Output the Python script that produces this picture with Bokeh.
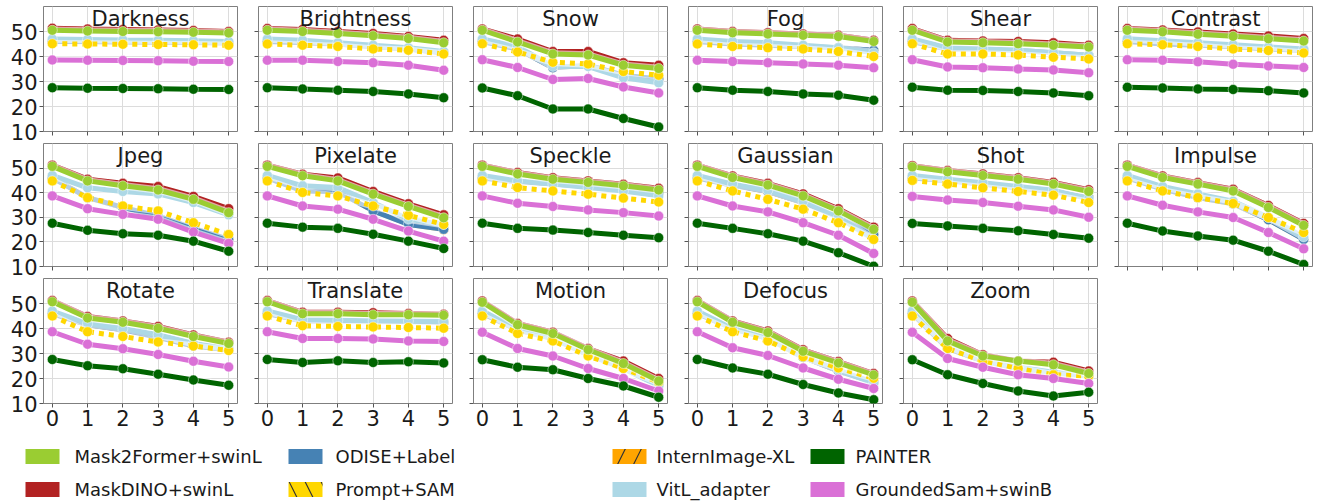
from bokeh.plotting import figure
from bokeh.layouts import column, row
from bokeh.models import Label, FixedTicker, Range1d
from bokeh.embed import file_html
from bokeh.resources import INLINE
from bokeh.core.properties import value

corruptions = ["Darkness", "Brightness", "Snow", "Fog", "Shear", "Contrast",
               "Jpeg", "Pixelate", "Speckle", "Gaussian", "Shot", "Impulse",
               "Rotate", "Translate", "Motion", "Defocus", "Zoom"]
severity = [0, 1, 2, 3, 4, 5]
y_ticks = [10, 20, 30, 40, 50]

mask2former = [
    [50.5, 50.2, 50.0, 49.9, 49.7, 49.4],
    [50.5, 50.0, 49.2, 48.3, 47.2, 45.5],
    [50.5, 45.8, 41.0, 40.6, 36.5, 35.2],
    [50.5, 49.5, 49.0, 48.5, 48.0, 46.0],
    [50.5, 45.8, 45.5, 45.1, 44.5, 43.8],
    [50.5, 49.9, 48.9, 48.1, 47.1, 46.2],
    [50.7, 44.8, 42.8, 41.1, 37.3, 31.9],
    [50.7, 46.9, 44.8, 39.4, 34.4, 29.8],
    [50.7, 47.6, 45.5, 44.2, 42.8, 41.1],
    [50.7, 46.2, 43.1, 38.7, 32.6, 25.1],
    [50.5, 48.5, 47.0, 45.5, 43.5, 40.5],
    [50.7, 46.2, 43.5, 40.7, 34.0, 26.7],
    [50.7, 44.2, 42.5, 40.1, 36.8, 34.0],
    [50.7, 45.9, 45.9, 45.5, 45.5, 45.3],
    [50.5, 41.5, 38.0, 31.5, 26.0, 19.0],
    [50.7, 42.5, 38.4, 30.9, 26.2, 21.4],
    [50.5, 35.0, 29.0, 27.0, 25.5, 22.0],
]
maskdino = [
    [51.3, 51.0, 50.8, 50.6, 50.4, 50.0],
    [51.2, 50.8, 50.0, 49.2, 48.0, 46.5],
    [51.0, 47.0, 42.0, 42.0, 37.5, 36.5],
    [51.0, 50.0, 49.5, 49.0, 48.5, 46.5],
    [51.2, 46.5, 46.2, 46.0, 45.5, 44.5],
    [51.2, 50.6, 49.8, 49.0, 48.2, 47.2],
    [51.2, 45.5, 43.8, 42.5, 38.5, 33.5],
    [51.2, 47.5, 46.0, 40.5, 35.5, 31.0],
    [51.2, 48.2, 46.1, 44.8, 43.4, 41.8],
    [51.2, 46.8, 43.8, 39.5, 33.5, 26.0],
    [51.0, 49.0, 47.6, 46.1, 44.2, 41.2],
    [51.2, 46.8, 44.1, 41.4, 34.8, 27.5],
    [51.2, 44.8, 43.0, 40.8, 37.4, 34.5],
    [51.2, 46.5, 46.5, 46.3, 46.0, 45.7],
    [51.0, 42.0, 38.5, 32.0, 27.0, 20.0],
    [51.2, 43.0, 39.0, 31.5, 26.8, 22.0],
    [51.0, 36.0, 29.5, 27.0, 26.5, 23.0],
]
odise = [
    [46.0, 46.0, 45.8, 45.8, 45.6, 45.5],
    [46.0, 45.6, 45.0, 44.0, 43.0, 41.5],
    [46.0, 43.0, 35.5, 36.5, 32.5, 31.0],
    [46.0, 45.0, 44.5, 44.0, 43.5, 42.5],
    [46.0, 43.0, 43.0, 42.5, 41.5, 40.5],
    [46.0, 45.0, 44.5, 44.0, 43.0, 42.5],
    [46.0, 38.0, 34.0, 30.5, 25.5, 21.0],
    [46.0, 40.7, 40.5, 32.6, 27.1, 25.1],
    [46.0, 44.5, 43.5, 42.5, 41.5, 40.0],
    [46.0, 43.0, 40.5, 36.0, 30.0, 23.0],
    [46.0, 45.0, 43.5, 42.0, 40.5, 38.0],
    [46.0, 41.5, 38.0, 35.5, 29.0, 21.0],
    [46.0, 41.5, 39.5, 36.5, 33.0, 31.5],
    [46.0, 43.0, 43.0, 43.0, 42.8, 42.5],
    [46.0, 39.5, 36.0, 29.5, 24.0, 17.5],
    [46.0, 40.0, 36.0, 28.5, 23.0, 18.5],
    [46.0, 32.0, 27.0, 24.0, 22.0, 21.0],
]
prompt_sam = [
    [45.1, 45.0, 44.9, 44.8, 44.7, 44.5],
    [45.0, 44.5, 44.0, 43.0, 42.5, 41.0],
    [45.1, 41.8, 37.7, 37.0, 34.0, 32.5],
    [45.0, 44.0, 43.5, 43.0, 42.0, 40.0],
    [45.1, 41.0, 41.0, 40.6, 39.7, 39.0],
    [45.1, 44.7, 44.0, 43.0, 42.4, 41.4],
    [44.8, 38.0, 34.6, 32.6, 27.8, 23.0],
    [44.8, 40.1, 38.7, 34.6, 30.8, 27.1],
    [44.8, 42.1, 40.7, 39.4, 37.8, 36.2],
    [44.8, 40.7, 37.3, 33.3, 27.8, 21.0],
    [45.0, 43.5, 42.0, 40.5, 39.0, 36.0],
    [44.8, 40.7, 38.0, 35.6, 29.9, 23.8],
    [45.0, 38.7, 36.8, 34.6, 33.0, 31.2],
    [45.0, 41.1, 40.8, 40.6, 40.4, 40.1],
    [45.0, 38.0, 35.0, 29.0, 24.0, 18.5],
    [45.0, 38.7, 35.0, 28.7, 24.2, 20.1],
    [45.0, 32.0, 27.0, 24.0, 21.5, 21.0],
]
internimage = [
    [46.0, 45.9, 45.8, 45.7, 45.6, 45.4],
    [46.0, 45.5, 44.9, 44.0, 43.0, 41.5],
    [46.0, 43.0, 35.6, 36.4, 32.4, 31.0],
    [46.0, 45.0, 44.4, 44.0, 43.4, 42.4],
    [46.0, 43.0, 42.9, 42.5, 41.5, 40.4],
    [46.0, 45.0, 44.5, 43.9, 43.0, 42.4],
    [46.0, 38.0, 34.1, 30.6, 25.5, 21.0],
    [46.0, 40.7, 40.4, 32.7, 27.2, 25.0],
    [46.0, 44.4, 43.5, 42.4, 41.5, 40.0],
    [46.0, 43.0, 40.4, 36.0, 30.0, 23.0],
    [46.0, 44.9, 43.5, 42.0, 40.4, 38.0],
    [46.0, 41.5, 38.0, 35.4, 29.0, 21.1],
    [46.0, 41.4, 39.5, 36.5, 33.0, 31.4],
    [46.0, 43.0, 43.0, 42.9, 42.8, 42.5],
    [46.0, 39.5, 35.9, 29.5, 24.0, 17.5],
    [46.0, 40.0, 36.0, 28.5, 23.1, 18.5],
    [46.0, 32.0, 27.0, 24.0, 22.0, 21.0],
]
vitl_adapter = [
    [47.0, 46.8, 46.6, 46.5, 46.3, 46.0],
    [47.0, 46.5, 45.5, 44.5, 43.5, 42.0],
    [47.0, 44.0, 36.0, 36.0, 31.5, 29.5],
    [47.0, 46.0, 45.5, 44.5, 43.5, 41.5],
    [47.0, 43.5, 43.0, 42.5, 41.5, 40.5],
    [47.1, 46.3, 45.5, 44.7, 43.8, 43.0],
    [47.0, 42.0, 40.5, 39.5, 36.0, 31.0],
    [47.0, 42.8, 42.1, 36.0, 29.2, 27.1],
    [47.0, 44.8, 43.5, 42.1, 40.7, 38.7],
    [47.0, 43.5, 41.0, 36.5, 30.0, 21.0],
    [47.0, 45.5, 44.0, 42.5, 41.0, 37.5],
    [47.0, 42.5, 39.5, 36.5, 30.0, 22.0],
    [47.0, 42.0, 40.0, 37.5, 34.0, 32.0],
    [47.0, 43.5, 43.3, 43.0, 43.0, 42.8],
    [47.0, 40.0, 36.0, 30.0, 24.0, 17.0],
    [47.0, 40.0, 36.0, 29.0, 23.5, 18.0],
    [47.0, 33.0, 27.5, 24.5, 22.5, 21.0],
]
painter = [
    [27.5, 27.3, 27.2, 27.1, 26.9, 26.8],
    [27.5, 27.0, 26.5, 26.0, 25.0, 23.5],
    [27.4, 24.3, 19.0, 19.0, 15.2, 11.8],
    [27.5, 26.5, 26.0, 25.0, 24.5, 22.5],
    [27.7, 26.5, 26.4, 26.0, 25.4, 24.3],
    [27.7, 27.4, 27.0, 26.8, 26.3, 25.4],
    [27.6, 24.7, 23.3, 22.7, 20.3, 16.2],
    [27.6, 26.0, 25.5, 23.1, 20.3, 17.3],
    [27.6, 25.5, 24.8, 23.8, 22.7, 21.7],
    [27.6, 25.5, 23.3, 20.3, 15.6, 10.1],
    [27.5, 26.5, 25.5, 24.5, 23.0, 21.5],
    [27.6, 24.4, 22.4, 20.7, 16.2, 10.8],
    [27.6, 25.1, 23.9, 21.7, 19.4, 17.3],
    [27.6, 26.4, 27.1, 26.4, 26.7, 26.2],
    [27.5, 24.5, 23.5, 20.0, 17.0, 12.5],
    [27.6, 24.2, 21.7, 17.6, 14.2, 11.5],
    [27.5, 21.5, 18.0, 15.0, 13.0, 14.5],
]
groundedsam = [
    [38.6, 38.5, 38.4, 38.3, 38.1, 38.0],
    [38.5, 38.5, 38.0, 37.5, 36.5, 34.5],
    [38.7, 35.6, 30.8, 31.2, 27.8, 25.4],
    [38.5, 38.0, 37.5, 37.0, 36.5, 35.5],
    [38.7, 35.8, 35.5, 35.0, 34.6, 33.5],
    [38.7, 38.5, 37.9, 36.9, 36.2, 35.6],
    [38.7, 33.5, 31.2, 29.2, 24.0, 19.4],
    [38.7, 34.6, 33.3, 29.2, 24.4, 20.3],
    [38.7, 35.7, 34.4, 33.0, 31.9, 30.5],
    [38.7, 34.6, 32.2, 27.8, 22.7, 15.3],
    [38.5, 37.0, 36.0, 34.5, 33.0, 30.0],
    [38.7, 34.9, 32.2, 29.9, 23.8, 17.2],
    [38.7, 33.7, 31.9, 29.6, 26.9, 24.6],
    [38.7, 36.0, 36.0, 35.8, 35.0, 34.8],
    [38.5, 32.0, 29.0, 24.0, 20.0, 15.0],
    [38.7, 32.3, 29.2, 24.2, 19.7, 16.0],
    [38.5, 28.0, 24.5, 21.5, 20.0, 18.0],
]

# legend order (column-major, 2 rows)
legend_names = ["Mask2Former+swinL", "MaskDINO+swinL", "ODISE+Label", "Prompt+SAM",
                "InternImage-XL", "VitL_adapter", "PAINTER", "GroundedSam+swinB"]
legend_colors = ["#9acd32", "#b22222", "#4682b4", "#ffd700",
                 "#ffa500", "#add8e6", "#006400", "#da70d6"]
legend_hatch = [None, None, None, "left_diagonal_line",
                "right_diagonal_line", None, None, None]

# draw order bottom -> top
series = [
    (internimage, "#ffa500", None),
    (odise, "#4682b4", None),
    (vitl_adapter, "#add8e6", None),
    (prompt_sam, "#ffd700", "5 5"),
    (groundedsam, "#da70d6", None),
    (painter, "#006400", None),
    (maskdino, "#b22222", None),
    (mask2former, "#9acd32", None),
]

FONT = "DejaVu Sans"
FW = 194
ROW_FH = [125, 123, 125]
ROW_TOP = [6, 0, 0]
ROW_BOTTOM = [12, 12, 30]


def make_panel(i):
    r, c = divmod(i, 6)
    show_x = r == 2
    show_y = c == 0
    p = figure(frame_width=FW, frame_height=ROW_FH[r],
               x_range=Range1d(-0.25, 5.25), y_range=Range1d(10, 60),
               output_backend="svg", toolbar_location=None,
               min_border_left=43 if c == 0 else 11,
               min_border_right=10 if c < 5 else 5,
               min_border_top=ROW_TOP[r],
               min_border_bottom=ROW_BOTTOM[r])
    p.background_fill_color = "white"
    p.border_fill_color = "white"
    p.outline_line_color = "#7f7f7f"
    p.outline_line_width = 1
    p.xaxis.ticker = FixedTicker(ticks=severity)
    p.yaxis.ticker = FixedTicker(ticks=y_ticks)
    p.grid.grid_line_color = "#dcdcdc"
    p.grid.grid_line_width = 1
    for ax, show in ((p.xaxis[0], show_x), (p.yaxis[0], show_y)):
        ax.axis_line_color = None
        ax.major_tick_in = 0
        ax.major_tick_out = 4
        ax.minor_tick_in = 0
        ax.minor_tick_out = 0
        ax.major_tick_line_color = "#555555"
        ax.major_label_text_font = FONT
        ax.major_label_text_color = "#1a1a1a"
        ax.major_label_standoff = 2
        ax.major_label_text_font_size = "21px" if show else "0px"
        if not show:
            ax.major_label_text_color = None
    for data, color, dash in series:
        vals = data[i]
        p.line(severity, vals, line_color="white", line_width=7.5, line_alpha=0.6)
        if dash:
            p.line(severity, vals, line_color=color, line_width=5, line_dash=dash)
        else:
            p.line(severity, vals, line_color=color, line_width=5)
        p.scatter(severity, vals, marker="circle", size=10, fill_color=color,
                  line_color="white", line_width=0.8, line_alpha=0.6)
    p.add_layout(Label(x=2.5, y=60, text=corruptions[i], text_align="center",
                       text_baseline="top", text_font=FONT, text_font_size="21px",
                       text_color="#1a1a1a", y_offset=0))
    return p


panels = [make_panel(i) for i in range(len(corruptions))]
rows = [row(*panels[k:k + 6]) for k in range(0, len(panels), 6)]

LW, LH = 1317, 70
leg = figure(width=LW, height=LH, x_range=Range1d(0, LW), y_range=Range1d(LH, 0),
             output_backend="svg", toolbar_location=None,
             min_border_left=0, min_border_right=0, min_border_top=0, min_border_bottom=0)
leg.axis.visible = False
leg.grid.visible = False
leg.outline_line_color = None
col_patch_x = [25, 288, 612, 810]
col_text_x = [74, 335, 656, 855]
row_y = [23, 56]
for k, name in enumerate(legend_names):
    cc, rr = divmod(k, 2)
    px = col_patch_x[cc] + 17
    py = row_y[rr]
    kw = {}
    if legend_hatch[k]:
        kw = dict(hatch_pattern=legend_hatch[k], hatch_color="#333333",
                  hatch_scale=32, hatch_weight=1.2)
    leg.rect(x=[px], y=[py], width=34, height=15, fill_color=legend_colors[k],
             line_color=None, **kw)
    leg.text(x=[col_text_x[cc]], y=[py], text=[name], text_font=value(FONT),
             text_font_size="18px", text_baseline="middle", text_align="left",
             text_color="#1a1a1a")

layout = column(*rows, leg)
open("out.html", "w").write(file_html(layout, INLINE, title="chart"))
